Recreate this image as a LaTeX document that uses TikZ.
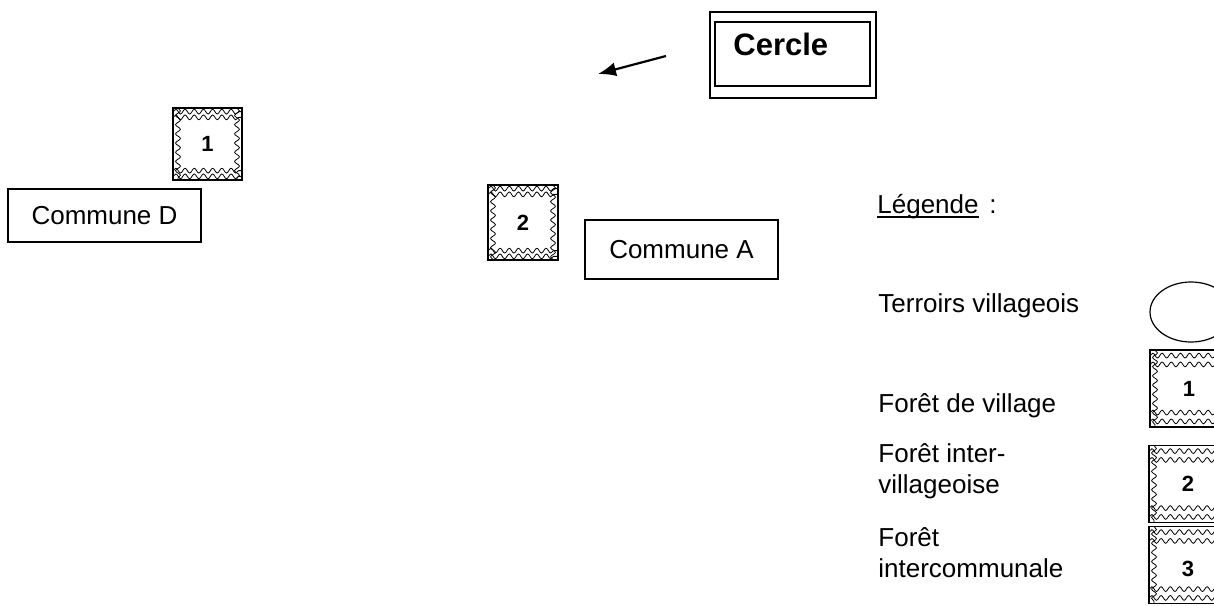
\documentclass[tikz,border=0pt]{standalone}
\usepackage{fontspec}
\setmainfont{Liberation Sans}
\usetikzlibrary{arrows.meta,shapes.geometric,decorations.pathmorphing}

\tikzset{
  vague/.style={decorate, decoration={snake, amplitude=1.2pt, segment length=4.6pt}, line width=0.4pt},
  boite/.style={draw, line width=0.7pt, minimum width=96.5pt, inner sep=0pt},
  legende/.style={anchor=base west, inner sep=0pt, align=left},
  foret/.style={draw, line width=0.7pt, inner sep=0pt, font=\bfseries\fontsize{11}{12}\selectfont,
    path picture={
      \foreach \d in {0.28,0.72} {
        \draw[vague] ([yshift=-\d*#1]path picture bounding box.north west) -- ([yshift=-\d*#1]path picture bounding box.north east);
        \draw[vague] ([yshift=\d*#1]path picture bounding box.south west) -- ([yshift=\d*#1]path picture bounding box.south east);
      }
      \draw[vague] ([xshift=2.5pt]path picture bounding box.north west) -- ([xshift=2.5pt]path picture bounding box.south west);
      \draw[vague] ([xshift=-2.5pt]path picture bounding box.north east) -- ([xshift=-2.5pt]path picture bounding box.south east);
      \fill[white] ([shift={(4.6pt,-#1)}]path picture bounding box.north west) rectangle ([shift={(-4.6pt,#1)}]path picture bounding box.south east);
    }},
  foret/.default=6.5pt
}

\begin{document}
\begin{tikzpicture}[x=0.5pt, y=-0.5pt, >={Latex[length=9pt,width=7pt]}, font=\fontsize{13}{15.5}\selectfont]
  \clip (0,0) rectangle (1214,605);
  % cercle
  \node[draw, line width=0.6pt, minimum width=83pt, minimum height=43pt] (cercle) at (793,55) {};
  \node[draw, line width=1.1pt, minimum width=77.5pt, minimum height=32pt] (cercleint) at (792.5,54) {};
  \node[anchor=base west, inner sep=0pt, font=\bfseries\fontsize{15.5}{18}\selectfont] (cercletxt) at (733,55) {Cercle};
  \coordinate (fleche) at (666,56);
  \coordinate (pointe) at (598,74);
  \draw[->, line width=1.1pt] (fleche) -- (pointe);
  % communes
  \node[boite, minimum height=26.5pt] (communeD) at (104.5,215.5) {Commune D};
  \node[boite, minimum height=29.5pt] (communeA) at (681.5,249.5) {Commune A};
  % forets
  \node[foret, minimum width=34.5pt, minimum height=36pt] (foretD) at (207.5,144) {1};
  \node[foret, minimum width=35pt, minimum height=37.5pt] (foretA) at (523,222.5) {2};
  % legende
  \node[legende] (leg) at (877,213) {Légende};
  \node[legende] (legpts) at ([xshift=5pt]leg.base east) {:};
  \draw[line width=0.6pt] ([yshift=-2pt]leg.base west) -- ([yshift=-2pt]leg.base east);
  \node[legende] (terroir) at (878,312) {Terroirs villageois};
  \node[legende] (village) at (878,412) {Forêt de village};
  \node[legende] (intervil) at (878,493) {Forêt inter-\\villageoise};
  \node[legende] (intercom) at (878,577) {Forêt\\intercommunale};
  \node[draw, ellipse, line width=0.6pt, minimum width=41pt, minimum height=30pt] (terroirsym) at (1191,312) {};
  \node[foret=10pt, minimum width=39pt, minimum height=38.5pt] (leg1) at (1189,388.5) {1};
  \node[foret=10pt, minimum width=39pt, minimum height=38.5pt] (leg2) at (1188,484) {2};
  \node[foret=10pt, minimum width=39pt, minimum height=38.5pt, text height=12pt] (leg3) at (1188,565) {3};
\end{tikzpicture}
\end{document}
